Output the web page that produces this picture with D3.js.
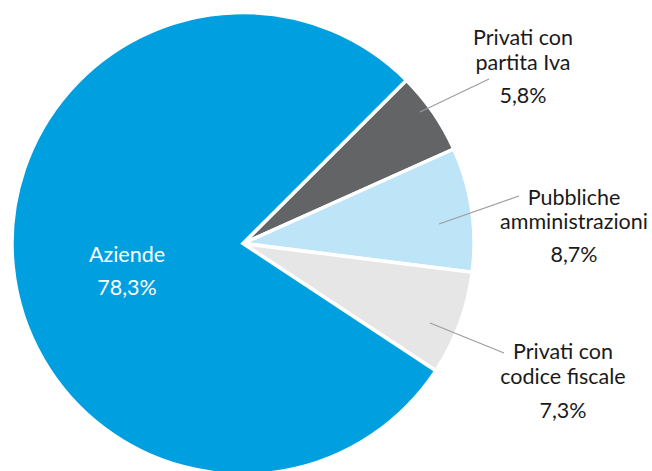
<!DOCTYPE html>
<html>
<head>
<meta charset="utf-8">
<script src="https://cdn.jsdelivr.net/npm/d3@7"></script>
<style>
  html, body { margin: 0; padding: 0; background: #fff; }
  svg { display: block; }
  text { font-family: Lato, "Open Sans", sans-serif; }
</style>
</head>
<body>
<svg id="chart" width="652" height="471"></svg>
<script>
// Data (clockwise from the top-right boundary)
const categories = ["Privati con partita Iva", "Pubbliche amministrazioni", "Privati con codice fiscale", "Aziende"];
const labelLines = [["Privati con", "partita Iva"], ["Pubbliche", "amministrazioni"], ["Privati con", "codice fiscale"], ["Aziende"]];
const values = [5.8, 8.7, 7.3, 78.3];
const valueLabels = ["5,8%", "8,7%", "7,3%", "78,3%"];
const colors = ["#636466", "#bee4f7", "#e6e6e6", "#009fe0"];

// Layout
const W = 652, H = 471;
const cx = 243, cy = 243.5, R = 231;
const startDeg = 45;
// label anchors (text centre x, first baseline y), leader start / end points
const layout = [
  { x: 523, y: 45, start: [420, 112], end: [489, 79], dark: true },
  { x: 574, y: 205, start: [439, 224], end: [519, 196], dark: true },
  { x: 563, y: 359, start: [430, 323], end: [504, 353], dark: true },
  { x: 127, y: 262, start: null, end: null, dark: false }
];
const lineGap = [25, 24, 25, 0];
const pctGap = [33, 33, 34, 33];
const fontSize = 21.5;

const svg = d3.select("#chart");
const g = svg.append("g").attr("transform", `translate(${cx},${cy})`);

const pie = d3.pie().sort(null).value(d => d)
  .startAngle(startDeg * Math.PI / 180)
  .endAngle((startDeg + 360) * Math.PI / 180);
const arcs = pie(values);
const arc = d3.arc().innerRadius(0).outerRadius(R);

g.selectAll("path.slice").data(arcs).join("path")
  .attr("class", "slice")
  .attr("d", arc)
  .attr("fill", (d, i) => colors[i])
  .attr("stroke", "#fff")
  .attr("stroke-width", 3.5)
  .attr("stroke-linejoin", "miter");

// leader lines
arcs.forEach((d, i) => {
  const L = layout[i];
  if (!L.start) return;
  svg.append("line")
    .attr("x1", L.start[0]).attr("y1", L.start[1])
    .attr("x2", L.end[0]).attr("y2", L.end[1])
    .attr("stroke", "#9d9d9d").attr("stroke-width", 1.2);
});

// labels
arcs.forEach((d, i) => {
  const L = layout[i];
  const fill = L.dark ? "#1a1a1a" : "#ffffff";
  const t = svg.append("text")
    .attr("text-anchor", "middle")
    .attr("font-size", fontSize)
    .attr("fill", fill);
  labelLines[i].forEach((s, k) => {
    t.append("tspan").attr("x", L.x).attr("y", L.y + k * lineGap[i]).text(s);
  });
  const lastY = L.y + (labelLines[i].length - 1) * lineGap[i];
  svg.append("text")
    .attr("text-anchor", "middle")
    .attr("font-size", fontSize)
    .attr("fill", fill)
    .attr("x", L.x).attr("y", lastY + pctGap[i])
    .text(valueLabels[i]);
});
</script>
</body>
</html>
